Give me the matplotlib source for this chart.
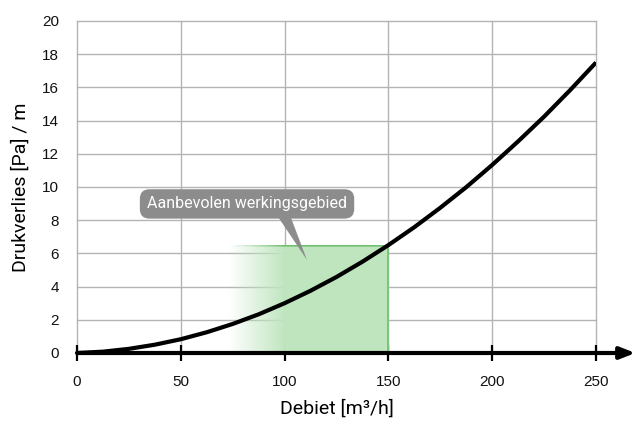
import numpy as np
import matplotlib
matplotlib.use("Agg")
import matplotlib.pyplot as plt

# curve: pressure loss per metre vs. flow rate
debiet = [0, 12.5, 25, 37.5, 50, 62.5, 75, 87.5, 100, 112.5, 125, 137.5,
          150, 162.5, 175, 187.5, 200, 212.5, 225, 237.5, 250]
drukverlies = [0, 0.08, 0.25, 0.50, 0.83, 1.25, 1.75, 2.33, 3.0, 3.75, 4.58, 5.50,
               6.5, 7.58, 8.75, 9.99, 11.33, 12.75, 14.24, 15.83, 17.5]

x_ticks = [0, 50, 100, 150, 200, 250]
y_ticks = [0, 2, 4, 6, 8, 10, 12, 14, 16, 18, 20]

# recommended operating range (fade starts at 75, solid 100..150)
zone_fade_start = 73
zone_solid_start = 100
zone_end = 150
zone_top = 6.5
zone_label = "Aanbevolen werkingsgebied"

grid_col = "#b4b4b4"
fill_col = np.array([0.75, 0.90, 0.75])
edge_col = np.array([0.44, 0.75, 0.44])
bubble_col = "#8c8c8c"

fig = plt.figure(figsize=(6.36, 4.21), dpi=100)
ax = fig.add_axes([77 / 636, (421 - 353) / 421, (596 - 77) / 636, (353 - 21) / 421])
ax.set_xlim(0, 250)
ax.set_ylim(0, 20)

for s in ax.spines.values():
    s.set_visible(False)

# grid
for yv in y_ticks[1:]:
    ax.axhline(yv, color=grid_col, lw=1, zorder=1, clip_on=False)
for xv in x_ticks:
    ax.axvline(xv, ymin=0, ymax=1, color=grid_col, lw=1, zorder=1, clip_on=False)

# gradient zone as an image
nx, ny = 300, 200
xs = np.linspace(zone_fade_start, zone_end, nx)
alpha = np.clip((xs - zone_fade_start) / (zone_solid_start - zone_fade_start), 0, 1)
img = np.zeros((ny, nx, 4))
img[:, :, :3] = fill_col
img[:, :, 3] = alpha[None, :]
img[:3, :, :3] = edge_col  # top edge
ax.imshow(img, extent=[zone_fade_start, zone_end, 0, zone_top], origin="upper",
          aspect="auto", interpolation="bilinear", zorder=2)
ax.plot([zone_end, zone_end], [0, zone_top], color=edge_col, lw=1.2, zorder=2)

# curve
ax.plot(debiet, drukverlies, color="black", lw=3, zorder=4, solid_capstyle="butt")

# x axis arrow
ax.annotate("", xy=(269, 0), xytext=(0, 0), annotation_clip=False,
            arrowprops=dict(arrowstyle="-|>,head_length=0.9,head_width=0.35",
                            color="black", lw=3, shrinkA=0, shrinkB=0), zorder=5)

# ticks
ax.set_xticks(x_ticks)
ax.set_yticks(y_ticks)
ax.tick_params(axis="x", direction="inout", length=11, width=1.6, color="black",
               pad=10, labelsize=11)
ax.tick_params(axis="y", length=0, pad=13, labelsize=11)
for lab in ax.get_xticklabels() + ax.get_yticklabels():
    lab.set_fontfamily("Liberation Sans")
    lab.set_color("#111111")

ax.set_xlabel("Debiet [m³/h]", fontfamily="Roboto", fontsize=14, labelpad=8)
ax.set_ylabel("Drukverlies [Pa] / m", fontfamily="Roboto", fontsize=14, labelpad=9)

# callout bubble
ax.text(81.9, 8.98, zone_label, color="white", fontfamily="Roboto", fontsize=11.5,
        ha="center", va="center", zorder=6,
        bbox=dict(boxstyle="round,pad=0.45,rounding_size=0.6", fc=bubble_col, ec="none"))
ax.fill([96.3, 102.6, 110.8], [8.3, 8.3, 5.6], color=bubble_col, lw=0, zorder=6)

fig.savefig("out.png", dpi=100)
